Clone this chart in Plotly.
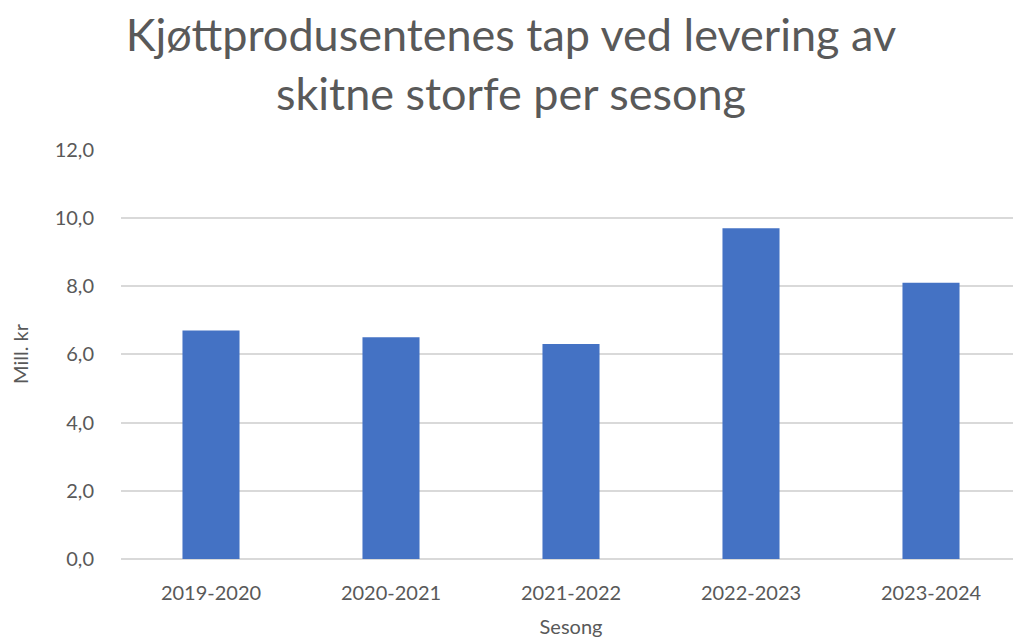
import plotly.graph_objects as go

seasons = ["2019-2020", "2020-2021", "2021-2022", "2022-2023", "2023-2024"]
loss_mill_kr = [6.7, 6.5, 6.3, 9.7, 8.1]
y_ticks = [0, 2, 4, 6, 8, 10, 12]

grey = "#595959"
font_name = "Lato, Open Sans, sans-serif"

fig = go.Figure(go.Bar(
    x=seasons,
    y=loss_mill_kr,
    marker=dict(color="#4472c4", line=dict(width=0)),
))

# the page body adds an 8px margin, so the figure is a bit smaller;
# the original plot area runs past the right edge of the image
fig.update_layout(
    width=1013, height=635,
    margin=dict(l=113, r=0, t=141, b=84),
    paper_bgcolor="white",
    plot_bgcolor="white",
    separators=", ",
    bargap=0.683,
    showlegend=False,
    font=dict(family=font_name, color=grey, size=20),
    title=dict(
        text="Kjøttprodusentenes tap ved levering av<br>skitne storfe per sesong",
        xref="container", x=0.4965, xanchor="center",
        yref="container", y=0.932, yanchor="middle",
        font=dict(size=45, color=grey, family=font_name),
    ),
    xaxis=dict(
        title=dict(text="Sesong", font=dict(size=20), standoff=16),
        showgrid=False, showline=False, ticks="",
        ticklabelstandoff=20, automargin=False,
        tickfont=dict(size=20),
    ),
    yaxis=dict(
        title=dict(text="Mill. kr", font=dict(size=20), standoff=22),
        range=[0, 12.02], tickvals=y_ticks, tickformat=".1f",
        showgrid=True, gridcolor="#d9d9d9", gridwidth=1.5,
        zeroline=True, zerolinecolor="#d9d9d9", zerolinewidth=1.5,
        showline=False, ticks="",
        ticklabelstandoff=26, automargin=False,
        tickfont=dict(size=20),
    ),
)

fig.write_html("out.html")
